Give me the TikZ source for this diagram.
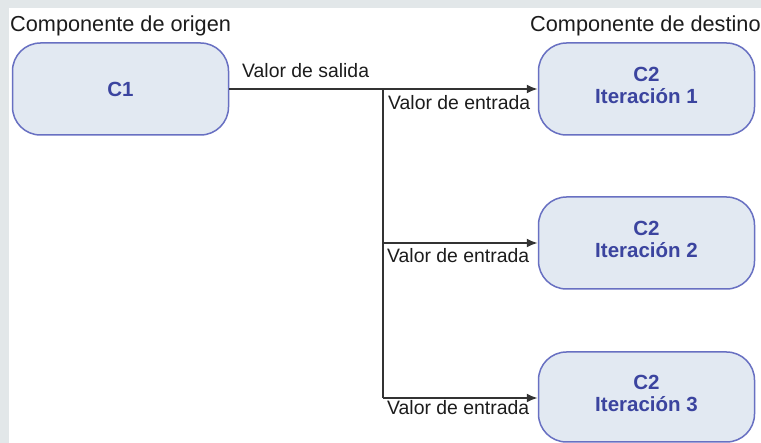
\documentclass[tikz,border=0pt]{standalone}
\usepackage{fontspec}
\setmainfont{Liberation Sans}
\usetikzlibrary{arrows.meta}
\definecolor{framegray}{HTML}{E2E7E9}
\definecolor{boxfill}{HTML}{E2E9F2}
\definecolor{boxline}{HTML}{6870C2}
\definecolor{boxtext}{HTML}{3B449F}
\definecolor{linegray}{HTML}{333333}
\definecolor{txtgray}{HTML}{1C1C1C}
\tikzset{
  comp/.style={draw=boxline, line width=1.5pt, fill=boxfill, rounded corners=28pt,
    minimum width=216pt, minimum height=92pt, inner sep=0pt, align=center,
    text=boxtext, font=\fontsize{20.5}{22}\selectfont\bfseries},
  heading/.style={anchor=base west, inner sep=0pt, text=txtgray, font=\fontsize{21.7}{24}\selectfont},
  lbl/.style={anchor=base west, inner sep=0pt, text=txtgray, font=\fontsize{19.4}{22}\selectfont},
  conn/.style={draw=linegray, line width=1.9pt},
  arr/.style={conn, -{Latex[length=11pt,width=9pt]}}
}
\begin{document}
\begin{tikzpicture}[x=1pt,y=-1pt]
\useasboundingbox (0,0) rectangle (761,443);
\fill[framegray] (0,0) rectangle (761,443);
\fill[white] (9,8) rectangle (761,443);

\node[heading] (h1) at (10,32) {Componente de origen};
\node[heading] (h2) at (530,32) {Componente de destino};

\node[comp] (c1) at (120.5,89) {C1};
\node[comp] (c21) at (646.5,89) {C2\\Iteración 1\rule[-8.3pt]{0pt}{8.3pt}};
\node[comp] (c22) at (646.5,243) {C2\\Iteración 2\rule[-8.3pt]{0pt}{8.3pt}};
\node[comp, minimum height=90pt] (c23) at (646.5,397) {C2\\Iteración 3\rule[-8.3pt]{0pt}{8.3pt}};

\coordinate (j1) at (383,89);
\coordinate (j2) at (383,243);
\coordinate (j3) at (383,398);

\draw[arr] (c1.east) -- (c21.west);
\draw[conn] (j1) -- (j3);
\draw[arr] (j2) -- (c22.west);
\draw[arr] (j3) -- (c23.west |- j3);

\node[lbl] (l0) at (242,78) {Valor de salida};
\node[lbl] (l1) at (388,110) {Valor de entrada};
\node[lbl] (l2) at (387,263) {Valor de entrada};
\node[lbl] (l3) at (387,415) {Valor de entrada};
\end{tikzpicture}
\end{document}
